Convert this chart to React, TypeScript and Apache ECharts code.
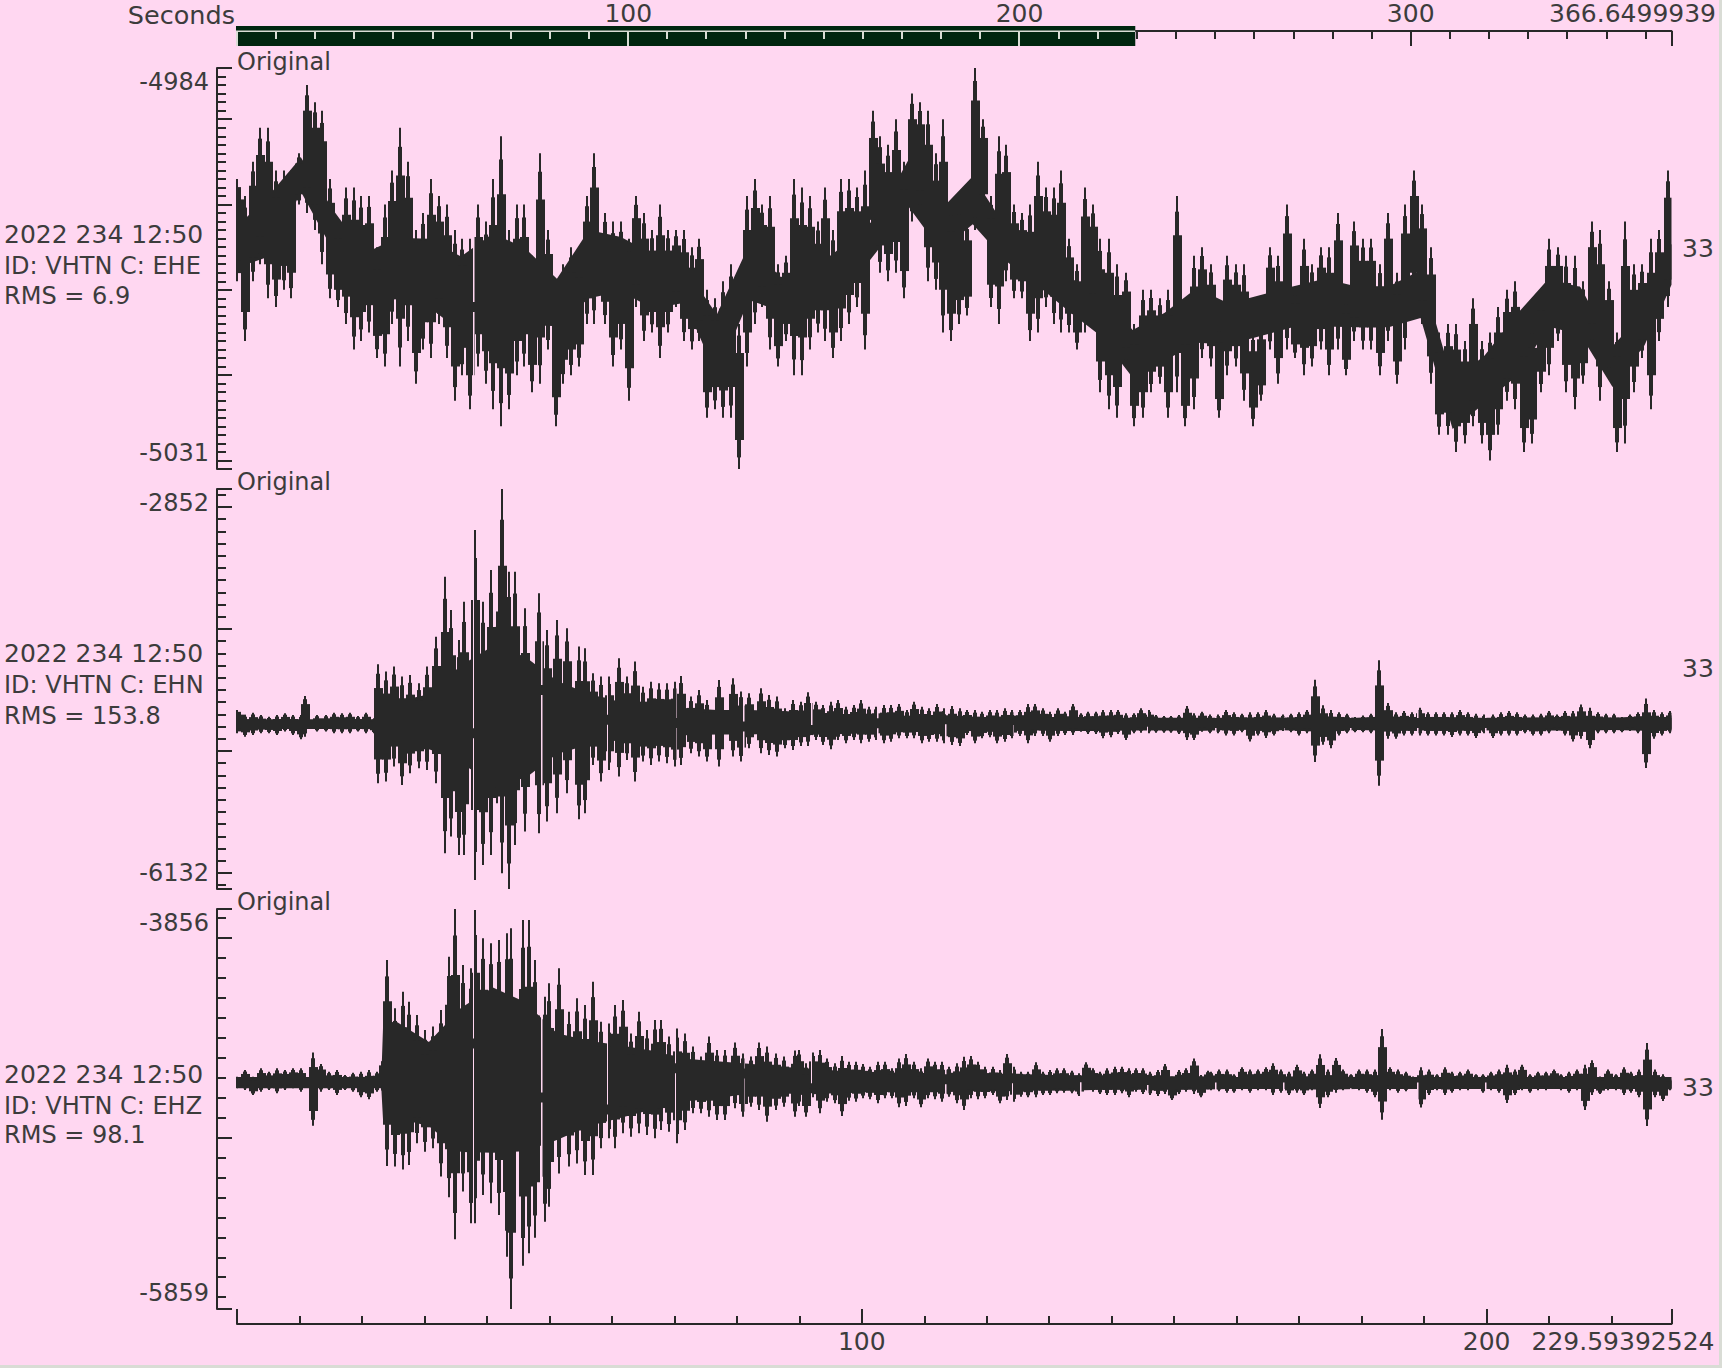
import React, { useEffect, useRef } from "react";
import * as echarts from "echarts";

const INK = "#282828";
const TEXT = "#3c3c3c";
const PINK = "#ffd7f1";
const FONT = '"DejaVu Sans"';
const FS = 25;
const FS_SMALL = 24;

const BOTTOM_MAX = 229.59392524;
const TOP_MAX = 366.6499939;

const infoLines = [
  ["2022 234 12:50", "ID: VHTN C: EHE", "RMS = 6.9"],
  ["2022 234 12:50", "ID: VHTN C: EHN", "RMS = 153.8"],
  ["2022 234 12:50", "ID: VHTN C: EHZ", "RMS = 98.1"],
];

const yRanges = [
  [-5031, -4984],
  [-6132, -2852],
  [-5859, -3856],
];
const yMajors = [
  [-5031, -5030, -5020, -5010, -5000, -4990, -4984],
  [-6132, -6000, -5000, -4000, -3000, -2852],
  [-5859, -5000, -4000, -3856],
];
const yMinorSteps = [1, 100, 100];

const topMajors = [0, 100, 200, 300, TOP_MAX];
const topLabels = [100, 200, 300, TOP_MAX];
const bottomMajors = [0, 100, 200, BOTTOM_MAX];
const bottomLabels = [100, 200, BOTTOM_MAX];
const topMinors = [10,20,30,40,50,60,70,80,90,110,120,130,140,150,160,170,180,190,210,220,230,240,250,260,270,280,290,310,320,330,340,350,360];
const bottomMinors = [10,20,30,40,50,60,70,80,90,110,120,130,140,150,160,170,180,190,210,220];
const barTicks = [10,20,30,40,50,60,70,80,90,110,120,130,140,150,160,170,180,190,210,220];
const barMajorTicks = [0, 100, 200];

// EHE
const e1aHi = [-4997,-4999,-4995,-4991,-4991,-4996,-4996,-4996,-4994,-4986,-4988,-4989,-4997,-5002,-4998,-4998,-4999,-4999,-5005,-5000,-4996,-4991,-4995,-5003,-5001,-4997,-4999,-5000,-5003,-5004,-5004,-5000,-5002,-4997,-4992,-5003,-5000,-5000,-5006,-4994,-5003,-5009,-5007,-5005,-5006,-4999,-4994];
const e1aLo = [-5009,-5016,-5009,-5007,-5011,-5012,-5010,-5011,-5000,-5001,-5003,-5007,-5011,-5012,-5014,-5017,-5016,-5015,-5018,-5019,-5014,-5019,-5016,-5021,-5017,-5018,-5014,-5018,-5023,-5020,-5024,-5019,-5021,-5024,-5026,-5024,-5020,-5019,-5022,-5021,-5017,-5026,-5021,-5020,-5019,-5014,-5014];
const e1bHi = [-5001,-5002,-5002,-5004,-4999,-5001,-5003,-5000,-5003,-5003,-5003,-5005,-5004,-5010,-5011,-5009,-5007,-5014,-4999,-4997,-5000,-4999,-5007,-5006,-4997,-4998,-4999,-5002,-4998,-5003,-4997,-4997,-4998,-4996,-4989,-4992,-4993,-4990,-4995,-4987,-4988,-4989,-4994,-4990,-5000,-5000,-5002,-4984,-4990,-4999,-4992,-4993,-5000,-5001,-5000,-4995,-4998,-4998,-4996,-5004,-5007,-4998,-5000];
const e1bLo = [-5014,-5019,-5017,-5023,-5012,-5016,-5015,-5018,-5015,-5012,-5016,-5017,-5016,-5025,-5024,-5025,-5025,-5031,-5019,-5014,-5012,-5017,-5019,-5016,-5020,-5020,-5017,-5015,-5016,-5018,-5016,-5014,-5012,-5017,-5005,-5008,-5009,-5008,-5011,-5002,-5001,-5009,-5010,-5015,-5016,-5014,-5013,-5003,-5001,-5012,-5014,-5009,-5011,-5011,-5016,-5015,-5012,-5014,-5015,-5015,-5017,-5015,-5013];
const e1cHi = [-5004,-5004,-5007,-5008,-5014,-5010,-5010,-5011,-5010,-4999,-5014,-5006,-5005,-5007,-5014,-5006,-5007,-5007,-5015,-5014,-5005,-5006,-5000,-5010,-5004,-5007,-5005,-5005,-5001,-5011,-5002,-5004,-5004,-5007,-5001,-5008,-5000,-4996,-5000,-5005,-5015,-5014,-5014,-5016,-5011,-5016,-5015,-5012,-5010,-5009,-5015,-5014,-5010,-5004,-5005,-5006,-5006,-5009,-5002,-5003,-5009,-5015,-5002,-5007,-5007,-5004,-5003,-4996];
const e1cLo = [-5022,-5024,-5025,-5019,-5026,-5025,-5022,-5021,-5025,-5022,-5026,-5024,-5018,-5019,-5025,-5020,-5019,-5023,-5026,-5023,-5017,-5021,-5017,-5018,-5020,-5019,-5017,-5020,-5017,-5020,-5016,-5017,-5017,-5020,-5016,-5021,-5017,-5011,-5014,-5021,-5027,-5027,-5029,-5028,-5026,-5028,-5030,-5027,-5023,-5024,-5029,-5028,-5022,-5020,-5016,-5022,-5024,-5021,-5017,-5023,-5020,-5029,-5028,-5022,-5018,-5024,-5016,-5012];
const e1BodyHi = [-5002,-4998,-4994,-5000,-5005,-5003,-5003,-5005,-5002,-5004,-5008,-5002,-5003,-5005,-5007,-5012,-5004,-5008,-5007,-5004,-5001,-4994,-5000,-4996,-5002,-5004,-5008,-5010,-5014,-5012,-5009,-5011,-5010,-5009,-5008,-5009,-5009,-5007,-5020,-5017,-5012,-5008,-5009,-5016,-5012,-5004];
const e1BodyLo = [-5008,-5007,-4999,-5006,-5012,-5012,-5013,-5016,-5016,-5015,-5015,-5012,-5011,-5013,-5012,-5021,-5012,-5013,-5013,-5011,-5006,-5001,-5006,-5003,-5007,-5010,-5013,-5016,-5021,-5019,-5017,-5017,-5016,-5015,-5015,-5015,-5015,-5014,-5027,-5024,-5021,-5015,-5016,-5022,-5017,-5010];
const e1Gaps = [37.8];
const e1GapBreaks = [-5012];

// EHN
const e2aSeconds = [0,1.31,2.59,3.88,5.16,6.45,7.74,9.02,10.31,10.92,12.88,14.17,15.45,16.74,18.02,19.31,20.6,21.88,22.62,23.9,25.19,26.47,27.76,29.05,30.33,31.92,33.27,34.19,35.48,36.39,38.05,39.33,40.62,41.54,42.46,43.5,44.48,46.13,48.27,49.56,51.21,52.87,54.7,55.68,56.97,58.26,59.54,61.13,62.36,63.65,64.93,66.22,67.5,68.79,70.08,71.06,72.65,73.94,75.22,77.12,79.32,80.61,81.9,83.79,85.08,86.36,87.65,88.94];
const e2aHi = [-4664,-4705,-4686,-4705,-4719,-4705,-4691,-4705,-4705,-4549,-4705,-4705,-4686,-4691,-4686,-4713,-4686,-4732,-4289,-4349,-4308,-4390,-4377,-4445,-4308,-4063,-3571,-3844,-4090,-3776,-3188,-3776,-3516,-3857,-2852,-3530,-3530,-3830,-3707,-4008,-3926,-3994,-4144,-4158,-4363,-4390,-4390,-4240,-4390,-4267,-4473,-4432,-4445,-4445,-4432,-4385,-4554,-4500,-4582,-4418,-4404,-4513,-4527,-4486,-4541,-4554,-4650,-4582];
const e2aLo = [-4855,-4883,-4869,-4855,-4855,-4869,-4841,-4869,-4904,-4883,-4841,-4841,-4855,-4855,-4855,-4841,-4855,-4855,-5265,-5251,-5128,-5279,-5183,-5142,-5156,-5265,-5839,-5702,-5853,-5853,-6058,-5935,-5853,-5429,-6003,-6132,-5771,-5661,-5675,-5579,-5511,-5347,-5560,-5511,-5115,-5251,-5156,-5210,-5074,-5251,-5087,-5115,-5087,-5101,-5128,-5115,-5019,-5046,-5087,-5128,-5046,-5087,-4978,-5019,-5033,-5046,-4978,-4992];
const e2bHi = [-4596,-4519,-4596,-4623,-4596,-4582,-4637,-4623,-4582,-4637,-4637,-4623,-4623,-4615,-4664,-4596,-4637,-4650,-4615,-4650,-4631,-4650,-4664,-4664,-4678,-4664,-4664,-4650,-4664,-4664,-4615,-4615,-4650,-4678,-4650,-4678,-4615,-4691,-4678,-4678,-4664,-4664,-4664,-4691,-4691,-4650,-4664,-4705,-4713,-4713,-4705,-4631,-4691,-4678];
const e2bLo = [-4959,-4959,-4910,-4951,-4986,-4910,-4937,-4910,-4937,-4924,-4910,-4937,-4924,-4896,-4896,-4896,-4937,-4924,-4924,-4937,-4951,-4959,-4869,-4937,-4896,-4888,-4937,-4924,-4896,-4877,-4937,-4877,-4877,-4924,-4877,-4869,-4869,-4842,-4861,-4861,-4896,-4888,-4861,-4910,-4855,-4850,-4855,-4850,-4850,-4850,-4861,-4910,-4910,-4842];
const e2cHi = [-4702,-4702,-4664,-4683,-4695,-4683,-4683,-4664,-4695,-4702,-4695,-4683,-4664,-4417,-4626,-4664,-4683,-4695,-4721,-4710,-4695,-4257,-4607,-4683,-4672,-4683,-4645,-4683,-4683,-4683,-4683,-4664,-4683,-4695,-4702,-4702,-4683,-4672,-4683,-4702,-4702,-4695,-4672,-4702,-4672,-4672,-4619,-4645,-4683,-4695,-4695,-4721,-4702,-4683,-4569,-4664,-4683,-4672];
const e2cLo = [-4855,-4855,-4874,-4874,-4847,-4923,-4874,-4893,-4874,-4836,-4847,-4874,-4855,-5091,-4950,-4977,-4874,-4855,-4847,-4847,-4855,-5285,-4900,-4900,-4874,-4874,-4874,-4874,-4874,-4874,-4885,-4874,-4874,-4893,-4855,-4893,-4874,-4874,-4874,-4855,-4874,-4874,-4855,-4836,-4874,-4923,-4900,-4977,-4855,-4855,-4855,-4847,-4836,-4855,-5140,-4900,-4874,-4855];
const e2BodyHi = [-4730,-4730,-4730,-4730,-4730,-4550,-4480,-4200,-4000,-4100,-4350,-4480,-4560,-4590,-4620,-4640,-4640,-4650,-4660,-4680,-4690,-4700,-4700,-4710,-4705,-4710,-4705,-4715,-4715,-4715,-4715,-4715,-4710,-4715,-4700,-4715,-4700,-4715,-4715,-4715,-4715,-4710,-4700,-4715,-4700,-4715];
const e2BodyLo = [-4830,-4830,-4830,-4830,-4830,-5000,-5040,-5200,-5400,-5350,-5100,-5000,-4950,-4940,-4900,-4890,-4890,-4880,-4890,-4880,-4870,-4860,-4860,-4850,-4850,-4845,-4850,-4850,-4845,-4845,-4850,-4840,-4840,-4845,-4860,-4840,-4850,-4845,-4845,-4845,-4840,-4845,-4850,-4840,-4850,-4840];
const e2Onset = [[21.9, -4730, -4830], [22.4, -4520, -5010]];
const gapSeconds = [37.8,48.6,59.2,70.1,81,91.8,102.4,113.3,124,135,145.6,156.5,167.4,178.2,188.8,199.8];
const e2GapBreaks = [-4855,-4500,-4745,-4770,-4800,-4828,-4773,-4740,-4746,-4732,-4760,-4770,-4770,-4770,-4770,-4770];

// EHZ
const e3aSeconds = [0,1.31,2.59,3.88,5.16,6.45,7.74,9.02,10.31,12.14,13.43,14.72,16,17.29,18.57,19.86,21.15,22.43,23.35,23.96,25.25,26.54,27.51,28.8,30.09,31.37,32.66,33.88,34.86,36.15,37.44,38.05,39.33,40.62,41.9,43.19,43.87,45.76,46.74,47.66,49.31,49.93,51.58,53.17,54.46,55.75,56.97,58.26,59.54,60.46,61.75,63.03,64.32,65.61,66.89,67.87,69.16,70.44,71.73,73.02,74.3,75.59,76.88,78.16,79.75,81.04,82.32,83.61,84.9,86.19,87.47,89.3];
const e3aHi = [-4696,-4662,-4696,-4654,-4671,-4654,-4662,-4654,-4654,-4574,-4632,-4671,-4662,-4687,-4676,-4671,-4662,-4671,-4604,-4111,-4353,-4270,-4320,-4387,-4462,-4445,-4362,-4095,-3856,-4136,-4153,-3861,-4003,-4028,-4011,-3978,-3953,-3911,-3911,-4111,-4295,-4228,-4153,-4370,-4303,-4337,-4220,-4420,-4429,-4337,-4312,-4479,-4370,-4462,-4412,-4412,-4495,-4454,-4479,-4545,-4595,-4495,-4562,-4562,-4525,-4579,-4595,-4525,-4545,-4579,-4595,-4565];
const e3aLo = [-4754,-4762,-4787,-4771,-4762,-4779,-4762,-4754,-4771,-4941,-4771,-4762,-4787,-4762,-4771,-4799,-4809,-4771,-4779,-5143,-5146,-5160,-5138,-5029,-5071,-5054,-5196,-5300,-5510,-5271,-5430,-5430,-5288,-5330,-5388,-5597,-5859,-5642,-5580,-5502,-5422,-5347,-5180,-5146,-5130,-5188,-5188,-5054,-5004,-5054,-4979,-4996,-4979,-4988,-5004,-4963,-4971,-5029,-4963,-4879,-4879,-4896,-4913,-4913,-4854,-4896,-4846,-4863,-4921,-4863,-4846,-4896];
const e3bHi = [-4562,-4629,-4574,-4562,-4604,-4629,-4592,-4621,-4621,-4632,-4646,-4621,-4621,-4654,-4604,-4582,-4621,-4654,-4604,-4621,-4621,-4646,-4629,-4596,-4592,-4621,-4646,-4646,-4662,-4582,-4646,-4671,-4671,-4624,-4671,-4662,-4654,-4654,-4666,-4679,-4624,-4654,-4671,-4654,-4646,-4646,-4654,-4654,-4654,-4671,-4662,-4632,-4696,-4662,-4654,-4604,-4687,-4666];
const e3bLo = [-4843,-4896,-4799,-4879,-4821,-4829,-4893,-4816,-4821,-4804,-4809,-4829,-4804,-4804,-4849,-4843,-4804,-4849,-4804,-4809,-4821,-4796,-4829,-4863,-4804,-4809,-4804,-4788,-4829,-4813,-4821,-4796,-4799,-4799,-4788,-4788,-4779,-4776,-4779,-4793,-4759,-4771,-4783,-4788,-4788,-4779,-4799,-4771,-4783,-4788,-4793,-4783,-4813,-4783,-4771,-4783,-4799,-4759];
const e3cHi = [-4671,-4660,-4660,-4683,-4648,-4660,-4660,-4648,-4629,-4660,-4671,-4636,-4671,-4660,-4583,-4660,-4602,-4660,-4683,-4660,-4660,-4660,-4457,-4648,-4660,-4671,-4695,-4648,-4660,-4683,-4648,-4671,-4671,-4660,-4683,-4683,-4671,-4660,-4636,-4660,-4636,-4683,-4671,-4671,-4660,-4683,-4671,-4660,-4636,-4613,-4695,-4660,-4683,-4648,-4671,-4660,-4527,-4660,-4683,-4706];
const e3cLo = [-4764,-4769,-4776,-4776,-4764,-4776,-4764,-4764,-4788,-4776,-4788,-4776,-4788,-4764,-4853,-4799,-4776,-4764,-4753,-4764,-4776,-4799,-4911,-4764,-4776,-4769,-4753,-4850,-4788,-4764,-4788,-4776,-4764,-4764,-4753,-4776,-4764,-4776,-4827,-4788,-4764,-4776,-4764,-4764,-4753,-4764,-4776,-4764,-4862,-4788,-4783,-4764,-4764,-4788,-4776,-4799,-4943,-4799,-4818,-4764];
const e3BodyHi = [-4690,-4690,-4690,-4690,-4690,-4362,-4470,-4262,-4145,-4228,-4412,-4462,-4495,-4529,-4579,-4595,-4612,-4629,-4640,-4655,-4660,-4665,-4665,-4670,-4670,-4675,-4680,-4680,-4680,-4685,-4685,-4690,-4690,-4690,-4685,-4690,-4690,-4690,-4690,-4690,-4690,-4690,-4690,-4690,-4690,-4690];
const e3BodyLo = [-4760,-4760,-4760,-4760,-4760,-4963,-4996,-5163,-5180,-5163,-5080,-4996,-4946,-4896,-4846,-4829,-4796,-4796,-4800,-4790,-4785,-4785,-4785,-4780,-4780,-4775,-4775,-4770,-4770,-4770,-4770,-4765,-4765,-4765,-4770,-4765,-4765,-4765,-4765,-4765,-4765,-4765,-4765,-4765,-4765,-4765];
const e3Onset = [[23.1, -4690, -4760], [23.4, -4360, -4990]];
const e3GapBreaks = [-4529,-4800,-4860,-4654,-4680,-4754,-4754,-4709,-4704,-4699,-4712,-4700,-4700,-4700,-4700,-4700];

const bodyStep = 5.12;
const bodySeconds = e1BodyHi.map((_, i) => (i === e1BodyHi.length - 1 ? BOTTOM_MAX : i * bodyStep));

function evenRows(hi: number[], lo: number[], from: number, to: number) {
  return hi.map((h, i) => [from + ((to - from) * i) / (hi.length - 1), h, lo[i]]);
}
function tableRows(t: number[], hi: number[], lo: number[]) {
  return t.map((v, i) => [v, hi[i], lo[i]]);
}
function minorValues(range: number[], step: number, majors: number[]) {
  const out: number[] = [];
  for (let v = Math.ceil(range[0] / step) * step; v <= range[1]; v += step) {
    if (!majors.includes(v)) out.push(v);
  }
  return out;
}
function bodyRows(hi: number[], lo: number[], onset: number[][]) {
  return tableRows(bodySeconds, hi, lo).concat(onset).sort((a, b) => a[0] - b[0]);
}

const spikeRows = [
  [...evenRows(e1aHi, e1aLo, 0, 57.2), ...evenRows(e1bHi, e1bLo, 58.9, 137), ...evenRows(e1cHi, e1cLo, 138.2, 229)],
  [...tableRows(e2aSeconds, e2aHi, e2aLo), ...evenRows(e2bHi, e2bLo, 90.2, 154.4), ...evenRows(e2cHi, e2cLo, 155.7, 229.4)],
  [...tableRows(e3aSeconds, e3aHi, e3aLo), ...evenRows(e3bHi, e3bLo, 89.9, 155.4), ...evenRows(e3cHi, e3cLo, 155.9, 229.4)],
];
const bodies = [
  bodyRows(e1BodyHi, e1BodyLo, []),
  bodyRows(e2BodyHi, e2BodyLo, e2Onset),
  bodyRows(e3BodyHi, e3BodyLo, e3Onset),
];
const gapRows = [
  e1Gaps.map((t, i) => [t, e1GapBreaks[i]]),
  gapSeconds.map((t, i) => [t, e2GapBreaks[i]]),
  gapSeconds.map((t, i) => [t, e3GapBreaks[i]]),
];

const gridTops = [68, 489, 909];
const gridHeights = [401, 400, 400];
const GRID_LEFT = 237;
const GRID_WIDTH = 1434.5;

const axisText = { color: TEXT, fontFamily: FONT, fontSize: FS };
const yAxisText = { color: TEXT, fontFamily: FONT, fontSize: FS_SMALL };
const lineStyle = { color: INK, width: 2 };

function buildOption() {
  const grid = gridTops.map((top, i) => ({ left: GRID_LEFT, width: GRID_WIDTH, top, height: gridHeights[i] }));

  const hiddenX = (gridIndex: number) => ({
    type: "value", gridIndex, min: 0, max: BOTTOM_MAX, show: false,
  });
  const xAxis: any[] = [
    hiddenX(0),
    hiddenX(1),
    {
      type: "value", gridIndex: 2, position: "bottom", offset: 15, min: 0, max: BOTTOM_MAX,
      splitLine: { show: false },
      axisLine: { onZero: false, lineStyle },
      axisTick: { inside: true, length: 15, lineStyle, customValues: bottomMajors },
      axisLabel: {
        ...axisText, margin: 5, customValues: bottomLabels,
        formatter: (v: number) => (v === BOTTOM_MAX ? `{last|${v}}` : String(v)),
        rich: { last: { ...axisText, padding: [0, 97, 0, 0] } },
      },
    },
    {
      type: "value", gridIndex: 2, position: "bottom", offset: 15, min: 0, max: BOTTOM_MAX,
      splitLine: { show: false }, axisLine: { show: false, onZero: false }, axisLabel: { show: false },
      axisTick: { inside: true, length: 8, lineStyle, customValues: bottomMinors },
    },
    {
      type: "value", gridIndex: 0, position: "top", offset: 37, min: 0, max: TOP_MAX,
      splitLine: { show: false },
      axisLine: { onZero: false, lineStyle },
      axisTick: { inside: true, length: 15, lineStyle, customValues: topMajors },
      axisLabel: {
        ...axisText, margin: 5, customValues: topLabels,
        formatter: (v: number) => (v === TOP_MAX ? `{last|${v}}` : String(v)),
        rich: { last: { ...axisText, padding: [0, 78, 0, 0] } },
      },
    },
    {
      type: "value", gridIndex: 0, position: "top", offset: 37, min: 0, max: TOP_MAX,
      splitLine: { show: false }, axisLine: { show: false, onZero: false }, axisLabel: { show: false },
      axisTick: { inside: true, length: 8, lineStyle, customValues: topMinors },
    },
  ];

  const yAxis: any[] = [];
  yRanges.forEach((range, i) => {
    yAxis.push({
      type: "value", gridIndex: i, position: "left", offset: 20, min: range[0], max: range[1],
      splitLine: { show: false },
      axisLine: { show: true, onZero: false, lineStyle },
      axisTick: { show: true, inside: true, length: 15, lineStyle, customValues: yMajors[i] },
      axisLabel: {
        ...yAxisText, margin: 8, customValues: [range[0], range[1]],
        formatter: (v: number) => (v === range[1] ? `{top|${v}}` : `{bot|${v}}`),
        rich: {
          top: { ...yAxisText, padding: [27, 0, 0, 0] },
          bot: { ...yAxisText, padding: [0, 0, 32, 0] },
        },
      },
    });
  });
  yRanges.forEach((range, i) => {
    yAxis.push({
      type: "value", gridIndex: i, position: "left", offset: 20, min: range[0], max: range[1],
      splitLine: { show: false }, axisLine: { show: false, onZero: false }, axisLabel: { show: false },
      axisTick: { show: true, inside: true, length: 9, lineStyle, customValues: minorValues(range, yMinorSteps[i], yMajors[i]) },
    });
  });

  const series: any[] = [];
  yRanges.forEach((_, i) => {
    const rows = bodies[i];
    series.push({
      type: "custom", xAxisIndex: i === 2 ? 2 : i, yAxisIndex: i, data: rows, clip: false, silent: true, z: 2,
      encode: { x: 0, y: [1, 2] },
      renderItem: (params: any, api: any) => {
        if (params.dataIndex !== 0) return null;
        const top = rows.map((r) => api.coord([r[0], r[1] + (r[2] - r[1]) * 0.1]));
        const bot = rows.map((r) => api.coord([r[0], r[2] - (r[2] - r[1]) * 0.1])).reverse();
        return { type: "polygon", shape: { points: [...top, ...bot] }, style: { fill: INK } };
      },
    });
    series.push({
      type: "custom", xAxisIndex: i === 2 ? 2 : i, yAxisIndex: i, data: spikeRows[i], clip: false, silent: true, z: 3,
      encode: { x: 0, y: [1, 2] },
      renderItem: (params: any, api: any) => {
        const a = api.coord([api.value(0), api.value(1)]);
        const b = api.coord([api.value(0), api.value(2)]);
        const cs = params.coordSys;
        const x = Math.round(a[0]);
        const span = b[1] - a[1];
        const bar = (width: number, inset: number) => {
          const left = Math.max(cs.x, x - Math.floor(width / 2));
          const right = Math.min(cs.x + cs.width, left + width);
          return {
            type: "rect",
            shape: { x: left, y: a[1] + span * inset, width: right - left, height: span * (1 - 2 * inset) },
            style: { fill: INK },
          };
        };
        return { type: "group", children: [bar(4, 0.08), bar(9, 0.2)] };
      },
    });
    series.push({
      type: "custom", xAxisIndex: i === 2 ? 2 : i, yAxisIndex: i, data: gapRows[i], clip: false, silent: true, z: 4,
      encode: { x: 0, y: 1 },
      renderItem: (params: any, api: any) => {
        const p = api.coord([api.value(0), api.value(1)]);
        const cs = params.coordSys;
        const x = Math.round(p[0]);
        return {
          type: "group",
          children: [
            { type: "rect", shape: { x, y: cs.y, width: 1.5, height: p[1] - cs.y - 5 }, style: { fill: PINK } },
            { type: "rect", shape: { x, y: p[1] + 5, width: 1.5, height: cs.y + cs.height - p[1] - 5 }, style: { fill: PINK } },
          ],
        };
      },
    });
    series.push({
      type: "custom", xAxisIndex: i === 2 ? 2 : i, yAxisIndex: i, data: spikeRows[i], clip: false, silent: true, z: 5,
      encode: { x: 0, y: [1, 2] },
      renderItem: (_p: any, api: any) => {
        const a = api.coord([api.value(0), api.value(1)]);
        const b = api.coord([api.value(0), api.value(2)]);
        return { type: "rect", shape: { x: Math.round(a[0]) - 1, y: a[1], width: 2, height: b[1] - a[1] }, style: { fill: INK } };
      },
    });
  });

  // Selected window drawn on the upper seconds axis
  series.push({
    type: "custom", xAxisIndex: 4, yAxisIndex: 0, data: [[0, BOTTOM_MAX]], clip: false, silent: true, z: 6,
    encode: { x: [0, 1] },
    renderItem: (_p: any, api: any) => {
      const px = (v: number) => api.coord([v, yRanges[0][1]])[0];
      const x0 = px(api.value(0));
      const x1 = px(api.value(1));
      const white = "#d9dcd5";
      const tick = (v: number, h: number) => ({
        type: "rect", shape: { x: Math.round(px(v)) - 1, y: 31, width: 2, height: h }, style: { fill: white },
      });
      return {
        type: "group",
        children: [
          { type: "rect", shape: { x: x0 - 1, y: 26, width: x1 - x0 + 1, height: 20 }, style: { fill: "#00250f" } },
          { type: "rect", shape: { x: x0 - 1, y: 30.5, width: x1 - x0 + 1, height: 1.5 }, style: { fill: white } },
          ...barMajorTicks.map((v) => tick(v, 15)),
          ...barTicks.map((v) => tick(v, 8)),
        ],
      };
    },
  });

  const text = (t: string, x: number, y: number, size = FS, align = "left") => ({
    type: "text", x, y, silent: true,
    style: { text: t, fill: TEXT, fontFamily: FONT, fontSize: size, align, verticalAlign: "middle" },
  });
  const infoY = [[234, 266, 296], [653, 685, 716], [1074, 1106, 1135]];
  const originalY = [61.5, 482, 902];
  const channelY = [248, 668, 1087];
  const graphic: any[] = [text("Seconds", 235, 15, 25.5, "right")];
  infoLines.forEach((lines, i) => {
    lines.forEach((l, j) => graphic.push(text(l, 4, infoY[i][j], j === 0 ? FS : FS_SMALL)));
    graphic.push(text("Original", 237, originalY[i], FS_SMALL));
    graphic.push(text("33", 1682, channelY[i]));
  });

  return { animation: false, backgroundColor: PINK, grid, xAxis, yAxis, series, graphic };
}

export default function App() {
  const ref = useRef<HTMLDivElement>(null);
  useEffect(() => {
    document.body.style.margin = "0";
    document.body.style.background = "#d9dcd5";
    const chart = echarts.init(ref.current!, undefined, { renderer: "svg" });
    chart.setOption(buildOption() as any);
    return () => chart.dispose();
  }, []);
  return <div ref={ref} style={{ width: 1719, height: 1365 }} />;
}
